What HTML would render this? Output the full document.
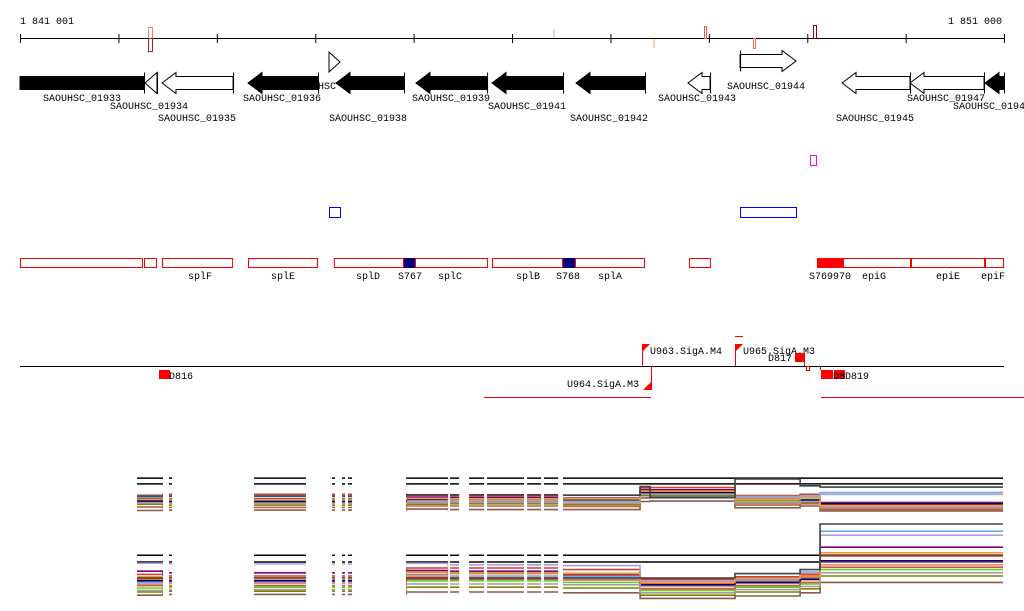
<!DOCTYPE html>
<html><head><meta charset="utf-8"><style>
html,body{margin:0;padding:0;background:#fff;}
svg{display:block;font-family:"Liberation Mono",monospace;font-size:10px;}
</style></head><body>
<svg id="chart" width="1024" height="611" viewBox="0 0 1024 611" xmlns="http://www.w3.org/2000/svg">
<g id="axis">
<text x="20" y="24">1 841 001</text>
<text x="1002" y="24" text-anchor="end">1 851 000</text>
<line x1="20" y1="38.5" x2="1004" y2="38.5" stroke="#000"/>
</g>
<g id="marks">
<rect x="148.5" y="27.5" width="4" height="11" fill="none" stroke="#f08070"/>
<rect x="148.5" y="38.5" width="4" height="13" fill="none" stroke="#b02020"/>
<rect x="553" y="29" width="2" height="9" fill="#f8d0c0"/>
<rect x="653" y="39" width="2" height="9" fill="#f8d0c0"/>
<rect x="704.5" y="26.5" width="2" height="12" fill="none" stroke="#f06040"/>
<rect x="753.5" y="38.5" width="2" height="10" fill="none" stroke="#f07050"/>
<rect x="813.5" y="25.5" width="3" height="13" fill="none" stroke="#a00000"/>
</g>
<g id="genes"></g>
<g id="reg">
<rect x="810.5" y="155.5" width="6" height="10" fill="none" stroke="#f0f"/>
<rect x="329.5" y="207.5" width="11" height="10" fill="none" stroke="#00f"/>
<rect x="740.5" y="207.5" width="56" height="10" fill="none" stroke="#00f"/>
</g>
<g id="ops"></g>
<g id="prom">
<line x1="20" y1="366.5" x2="1004" y2="366.5" stroke="#000"/>
<rect x="159" y="370" width="11" height="9" fill="#f00"/>
<text x="169" y="379">D816</text>
<line x1="642.5" y1="344" x2="642.5" y2="366" stroke="#f00"/>
<polygon points="642,344 650,344 642,352" fill="#f00"/>
<text x="650" y="354">U963.SigA.M4</text>
<line x1="735.5" y1="344" x2="735.5" y2="366" stroke="#f00"/>
<polygon points="735,344 743,344 735,352" fill="#f00"/>
<line x1="735" y1="336.5" x2="743" y2="336.5" stroke="#f00"/>
<text x="743" y="354">U965.SigA.M3</text>
<text x="768" y="361">D817</text>
<rect x="795" y="353" width="10" height="9" fill="#f00"/>
<line x1="804.5" y1="353" x2="804.5" y2="366" stroke="#f00"/>
<line x1="651.5" y1="366" x2="651.5" y2="390" stroke="#f00"/>
<polygon points="651,382 651,390 643,390" fill="#f00"/>
<text x="567" y="387">U964.SigA.M3</text>
<line x1="484" y1="397.5" x2="651" y2="397.5" stroke="#f00"/>
<line x1="821" y1="397.5" x2="1024" y2="397.5" stroke="#f00"/>
<rect x="806.5" y="366.5" width="3" height="4" fill="none" stroke="#f00"/>
<line x1="820.5" y1="366" x2="820.5" y2="370" stroke="#f00"/>
<rect x="821" y="370" width="12" height="9" fill="#f00"/>
<rect x="834" y="370" width="11" height="9" fill="#f00"/>
<text x="833" y="379">D8</text>
<text x="845" y="379">D819</text>
</g>
<defs><clipPath id="segclip"></clipPath></defs>
<g id="expr" clip-path="url(#segclip)"></g>
</svg>
<script>
const NS="http://www.w3.org/2000/svg";
const startBp=1841001, endBp=1851000;
function X(bp){return 20+(bp-startBp)*984/(endBp-startBp);}
function mk(tag,attrs,parent){const e=document.createElementNS(NS,tag);for(const k in attrs)e.setAttribute(k,attrs[k]);parent.appendChild(e);return e;}
const tickBp=[1841001,1842001,1843001,1844001,1845001,1846001,1847001,1848001,1849001,1850001,1851000];
const axis=document.getElementById('axis');
tickBp.forEach(b=>{const l=mk('line',{x1:X(b)+0.5,x2:X(b)+0.5,y1:34,y2:43,stroke:'#000'},axis);

});

const geneStart=[1841001,1842271,1842444,1843318,1844141,1844212,1845025,1845797,1846651,1847789,1848318,1849354,1850045,1850807];
const geneEnd  =[1842261,1842393,1843166,1844029,1844253,1844903,1845747,1846519,1847352,1848013,1848887,1850045,1850797,1851000];
const geneStrand=[-1,-1,-1,-1,1,-1,-1,-1,-1,-1,1,-1,-1,-1];
const geneFill=[1,0,0,1,0,1,1,1,1,0,0,0,0,1];
const geneLabel=["SAOUHSC_01933","SAOUHSC_01934","SAOUHSC_01935","SAOUHSC_01936","","SAOUHSC_01938","SAOUHSC_01939","SAOUHSC_01941","SAOUHSC_01942","SAOUHSC_01943","SAOUHSC_01944","SAOUHSC_01945","SAOUHSC_01947","SAOUHSC_0194"];
const geneLabelX=[43,110,158,243,0,329,412,488,570,658,727,836,907,953];
const geneLabelY=[101,109,121,101,0,121,101,109,121,101,89,121,101,109];
const genes=document.getElementById('genes');
geneStart.forEach((s,i)=>{
 let x1=X(s),x2=X(geneEnd[i]);
 let small=i===4;
 let yc=small?62:83, hh=small?10:6.5, head=small?(x2-x1):Math.min(14,x2-x1);
 if(i===10){yc=61;}
 let pts;
 if(geneStrand[i]<0){
   let hx=Math.min(x1+head,x2);
   pts=[[x2,yc-hh],[hx,yc-hh],[hx,yc-hh-4],[x1,yc],[hx,yc+hh+4],[hx,yc+hh],[x2,yc+hh]];
   if(i===0) pts=[[x1,yc-hh],[x2,yc-hh],[x2,yc+hh],[x1,yc+hh]];
 } else {
   let hx=Math.max(x2-head,x1);
   pts=small?[[x1,yc-hh],[x2,yc],[x1,yc+hh]]:[[x1,yc-hh],[hx,yc-hh],[hx,yc-hh-4],[x2,yc],[hx,yc+hh+4],[hx,yc+hh],[x1,yc+hh]];
 }
 const p=mk('polygon',{points:pts.map(q=>q.join(',')).join(' '),fill:geneFill[i]?'#000':'#fff',stroke:'#000','stroke-width':1},genes);
 
 
 if(!small){const ex=geneStrand[i]<0?x2:x1;const l=mk('line',{x1:ex+0.5,x2:ex+0.5,y1:yc-hh-4,y2:yc+hh+4,stroke:'#000'},genes);
  
  }
 if(geneLabel[i]){const t=mk('text',{x:geneLabelX[i],y:geneLabelY[i]},genes);t.textContent=geneLabel[i];
  
  }
});
const hsc=mk('text',{x:318,y:89},genes);hsc.textContent="HSC";



const opStart=[1841001,1842261,1842444,1843318,1844190,1844903,1845015,1845797,1846519,1846641,1847799,1849100,1849364,1850055,1850807];
const opEnd  =[1842251,1842393,1843166,1844029,1844903,1845015,1845757,1846519,1846641,1847352,1848023,1849364,1850055,1850807,1851000];
const opType =[0,0,0,0,0,2,0,0,2,0,0,1,0,0,0];
const ops=document.getElementById('ops');
opStart.forEach((s,i)=>{const x1=X(s),x2=X(opEnd[i]);
 const r=mk('rect',{x:x1+0.5,y:258.5,width:Math.max(1,x2-x1-1),height:9,fill:opType[i]===0?'#fff':(opType[i]===1?'#f00':'#000080'),stroke:opType[i]===2?'#000080':'#f00'},ops);
 
 });
const opLabels=["splF","splE","splD","S767","splC","splB","S768","splA","S769970","epiG","epiE","epiF"];
const opLabelX=[188,271,356,398,438,516,556,598,809,862,936,981];
opLabels.forEach((l,i)=>{const t=mk('text',{x:opLabelX[i],y:279},ops);t.textContent=l;
 
 });

const segStart=[1842190,1842515,1843379,1844172,1844273,1844334,1844924,1845371,1845564,1845747,1846154,1846326,1846519];
const segEnd  =[1842454,1842546,1843907,1844202,1844304,1844375,1845351,1845463,1845717,1846123,1846296,1846469,1850991];
const clip=document.getElementById('segclip');
segStart.forEach((s,i)=>mk('rect',{x:X(s),y:460,width:X(segEnd[i])-X(s),height:150},clip));
const pos=[1842190,1842454,1844924,1845351,1846489,1847302,1847404,1848267,1848928,1849131,1850991];
const colors=['#000000','#000000','#d04030','#e07030','#60d020','#808000','#800080','#60b0f0','#b0a0d0','#f08080','#000080','#8b5a4a','#c06040','#a0a0a0','#f0a030','#404040'];
const p1s0=[8.2,8.2,8.2,8.2,8.2,8.2,8.2,8.2,8.2,8.2,8.2];
const p1s1=[6.9,6.9,6.9,6.9,6.9,6.9,6.9,6.9,6.9,6.9,6.9];
const p1s2=[4.4,4.6,4.4,4.3,4.4,6.0,6.1,4.3,4.6,2.8,2.9];
const p1s3=[3.8,3.6,3.9,3.7,3.8,5.4,5.5,3.6,4.0,2.4,2.5];
const p1s4=[3.3,3.1,3.3,3.4,3.3,5.1,5.0,3.2,3.4,2.0,1.9];
const p1s5=[2.4,2.2,2.4,2.5,2.3,4.4,4.3,2.6,2.8,1.4,1.5];
const p1s6=[3.6,3.5,4.0,3.9,3.7,5.6,5.6,3.9,4.1,2.3,2.2];
const p1s7=[4.0,4.1,3.3,3.2,3.5,4.0,4.0,4.1,4.2,5.0,5.1];
const p1s8=[4.3,4.2,3.0,3.0,3.0,3.8,3.8,3.9,4.0,4.6,4.7];
const p1s9=[2.9,2.8,2.9,3.0,2.7,4.8,4.8,2.9,3.2,1.8,1.7];
const p1s10=[3.1,3.0,3.5,3.6,3.4,5.0,5.0,3.5,3.3,2.6,2.6];
const p1s11=[1.0,1.1,1.3,1.2,1.2,3.0,3.1,1.6,2.0,0.9,0.9];
const p1s12=[1.8,1.7,2.0,2.0,1.9,3.8,3.9,2.2,2.5,1.2,1.1];
const p1s13=[2.7,2.6,2.7,2.8,2.6,4.6,4.6,2.7,3.0,1.6,1.6];
const p1s14=[3.5,3.4,3.7,3.6,3.6,5.3,5.3,3.5,3.8,2.1,2.0];
const p1s15=[4.2,4.2,4.5,4.5,4.4,6.3,3.9,8.0,6.5,6.2,8.0];
const p2s0=[5.6,5.6,5.6,5.6,5.6,5.6,5.6,5.6,5.6,5.6,5.6];
const p2s1=[4.75,4.75,4.75,4.75,4.75,4.75,4.75,4.75,4.75,4.75,4.75];
const p2s2=[3.2,3.0,4.0,4.0,3.8,2.6,2.6,2.9,3.2,5.5,5.3];
const p2s3=[2.6,2.5,3.2,3.3,3.1,2.0,2.0,2.4,2.8,4.8,4.6];
const p2s4=[1.5,1.6,2.4,2.4,2.2,1.2,1.2,1.6,2.0,3.8,3.7];
const p2s5=[1.0,1.1,1.6,1.6,1.5,0.6,0.6,1.0,1.4,3.0,2.8];
const p2s6=[3.6,3.4,3.7,3.6,3.2,2.2,2.2,2.6,3.0,6.6,6.3];
const p2s7=[2.2,2.2,3.0,3.0,2.9,2.3,2.3,2.5,3.5,8.6,8.4];
const p2s8=[4.6,4.5,4.6,4.4,4.3,2.4,2.4,2.7,3.4,8.1,7.9];
const p2s9=[2.0,2.1,2.9,2.8,2.7,1.7,1.7,2.1,2.5,4.4,4.2];
const p2s10=[2.4,2.4,3.5,3.4,3.3,1.9,1.9,2.2,2.6,4.9,4.9];
const p2s11=[0.6,0.7,1.0,1.0,0.9,0.2,0.2,0.5,0.9,2.2,1.9];
const p2s12=[1.8,1.8,2.6,2.6,2.5,1.4,1.4,1.8,2.2,4.1,4.0];
const p2s13=[1.2,1.3,2.0,2.0,1.9,0.9,0.9,1.3,1.7,3.4,3.3];
const p2s14=[2.9,2.8,3.5,3.4,3.3,2.2,2.2,2.7,3.0,5.9,5.8];
const p2s15=[2.75,2.75,2.75,2.75,2.75,2.75,2.75,3.3,3.8,9.5,9.5];
const panel1=[p1s0,p1s1,p1s2,p1s3,p1s4,p1s5,p1s6,p1s7,p1s8,p1s9,p1s10,p1s11,p1s12,p1s13,p1s14,p1s15];
const panel2=[p2s0,p2s1,p2s2,p2s3,p2s4,p2s5,p2s6,p2s7,p2s8,p2s9,p2s10,p2s11,p2s12,p2s13,p2s14,p2s15];
const expr=document.getElementById('expr');
function Y1(v){return 515-v*4.5;}
function Y2(v){return 600-v*8;}
function drawPanel(data,Y,name){
 data.forEach((ser,si)=>{
  const n=ser.length;
  let d='M'+X(pos[0]).toFixed(1)+','+Y(ser[0]).toFixed(1);
  for(let i=1;i<n-1;i++){d+=' H'+X(pos[i]).toFixed(1)+' V'+Y(ser[i]).toFixed(1);}
  d+=' H'+X(pos[n-1]).toFixed(1);
  const p=mk('path',{d:d,fill:'none',stroke:colors[si],'stroke-width':si<2?1.5:1.6},expr);
  
  
 });
}
drawPanel(panel1,Y1,'panel1');
drawPanel(panel2,Y2,'panel2');
</script>
</body></html>
